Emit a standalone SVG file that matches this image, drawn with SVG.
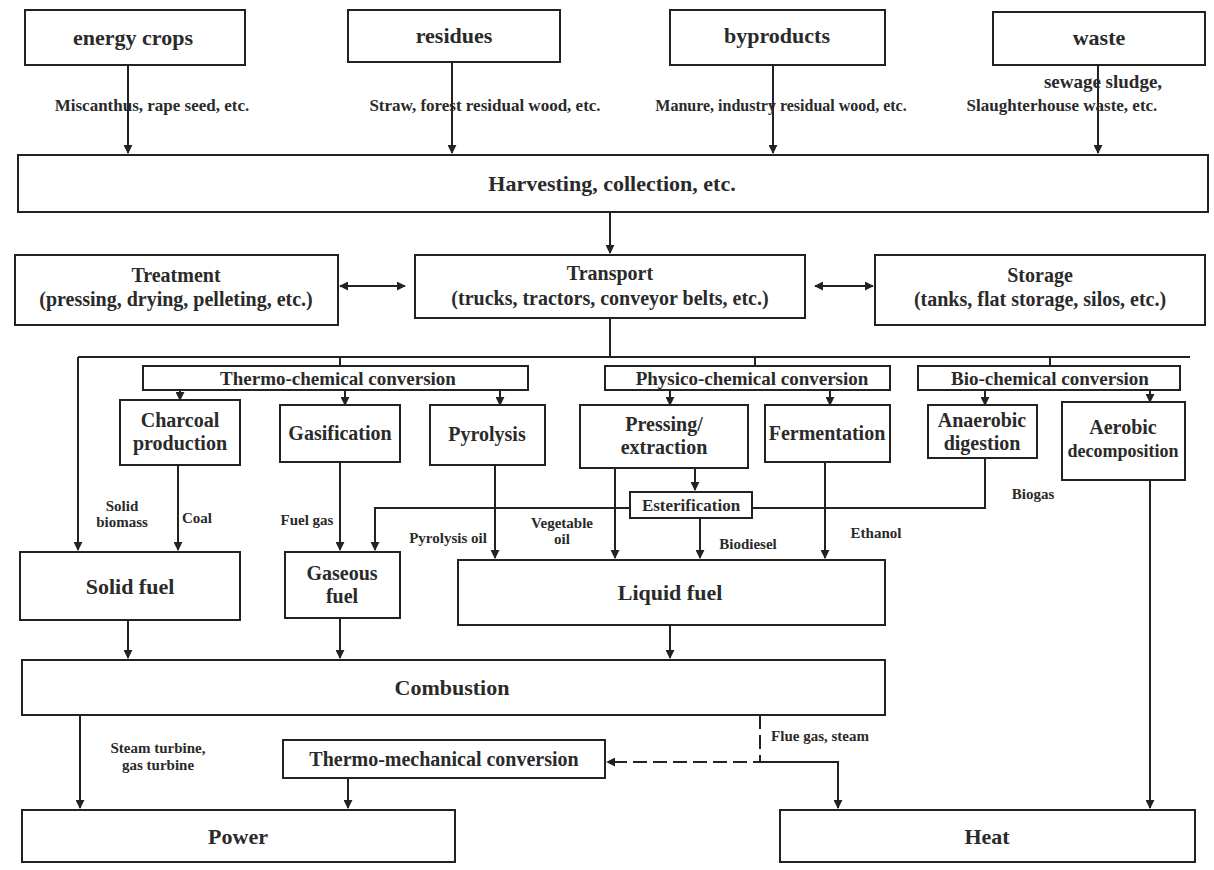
<svg xmlns="http://www.w3.org/2000/svg" width="1214" height="870" viewBox="0 0 1214 870">
<defs>
<marker id="ah" viewBox="0 0 10 10" refX="9" refY="5" markerWidth="9" markerHeight="9" orient="auto-start-reverse" markerUnits="userSpaceOnUse"><path d="M0,0 L10,5 L0,10 z" fill="#222"/></marker>
<style>
.b{fill:#fff;stroke:#222;stroke-width:2}
.c{fill:none;stroke:#222;stroke-width:2}
.a{fill:none;stroke:#222;stroke-width:2;marker-end:url(#ah)}
.t{font-family:"Liberation Serif",serif;font-weight:bold;fill:#2a2a2a;text-anchor:middle}
.h{font-size:22px}
.l{font-size:22px}
.m{font-size:20px}
.g{font-size:19px}
.p{font-size:17px}
.s{font-size:15px}
</style>
</defs>
<rect width="1214" height="870" fill="#fff"/>
<g id="connectors">
<path class="a" d="M128,65 V153"/>
<path class="a" d="M452,62 V153"/>
<path class="a" d="M773,65 V153"/>
<path class="a" d="M1098,65 V153"/>
<path class="a" d="M610,212 V253"/>
<path class="a" d="M405,286 H340" style="marker-start:url(#ah)"/>
<path class="a" d="M815,286 H873" style="marker-start:url(#ah)"/>
<path class="c" d="M610,318 V357"/>
<path class="c" d="M78,357 H1190"/>
<path class="c" d="M340,357 V366 M755,357 V366 M1050,357 V366"/>
<path class="a" d="M180,390 V400"/>
<path class="a" d="M345,390 V405"/>
<path class="a" d="M500,390 V405"/>
<path class="a" d="M670,390 V405"/>
<path class="a" d="M830,390 V405"/>
<path class="a" d="M985,390 V405"/>
<path class="a" d="M1150,390 V402"/>
<path class="a" d="M78,357 V550"/>
<path class="a" d="M178,465 V550"/>
<path class="a" d="M340,462 V550"/>
<path class="a" d="M985,458 V508 H375 V550"/>
<path class="a" d="M495,465 V558"/>
<path class="a" d="M615,468 V558"/>
<path class="a" d="M695,468 V490"/>
<path class="a" d="M700,518 V558"/>
<path class="a" d="M825,462 V558"/>
<path class="a" d="M1150,480 V808"/>
<path class="a" d="M128,620 V658"/>
<path class="a" d="M340,618 V658"/>
<path class="a" d="M670,625 V658"/>
<path class="a" d="M80,715 V808"/>
<path class="a" d="M760,715 V762 H607" style="stroke-dasharray:14 6"/>
<path class="a" d="M760,762 H838 V808"/>
<path class="a" d="M348,778 V808"/>
</g>
<g id="energy-crops"><rect class="b" x="25" y="10" width="220" height="55"/><text class="t h" x="133" y="45">energy crops</text></g>
<g id="residues"><rect class="b" x="348" y="10" width="212" height="52"/><text class="t h" x="454" y="43">residues</text></g>
<g id="byproducts"><rect class="b" x="670" y="10" width="215" height="55"/><text class="t h" x="777" y="43">byproducts</text></g>
<g id="waste"><rect class="b" x="993" y="12" width="212" height="53"/><text class="t h" x="1099" y="45">waste</text></g>
<g id="labels-sources">
<text class="t p" x="152" y="111">Miscanthus, rape seed, etc.</text>
<text class="t p" x="485" y="111">Straw, forest residual wood, etc.</text>
<text class="t p" x="781" y="111" style="font-size:16px">Manure, industry residual wood, etc.</text>
<text class="t p" x="1062" y="111">Slaughterhouse waste, etc.</text>
<text class="t p" x="1103" y="88" style="font-size:19px">sewage sludge,</text>
</g>
<g id="harvest"><rect class="b" x="18" y="155" width="1190" height="57"/><text class="t l" x="612" y="191">Harvesting, collection, etc.</text></g>
<g id="treatment"><rect class="b" x="15" y="255" width="323" height="70"/><text class="t m" x="176" y="282">Treatment</text><text class="t m" x="176" y="306">(pressing, drying, pelleting, etc.)</text></g>
<g id="transport"><rect class="b" x="415" y="255" width="390" height="63"/><text class="t m" x="610" y="280">Transport</text><text class="t m" x="610" y="305">(trucks, tractors, conveyor belts, etc.)</text></g>
<g id="storage"><rect class="b" x="875" y="255" width="330" height="70"/><text class="t m" x="1040" y="282">Storage</text><text class="t m" x="1040" y="306">(tanks, flat storage, silos, etc.)</text></g>
<g id="thermo-chemical"><rect class="b" x="143" y="366" width="385" height="24"/><text class="t g" x="338" y="385">Thermo-chemical conversion</text></g>
<g id="physico-chemical"><rect class="b" x="605" y="366" width="285" height="24"/><text class="t g" x="752" y="385">Physico-chemical conversion</text></g>
<g id="bio-chemical"><rect class="b" x="918" y="366" width="262" height="24"/><text class="t g" x="1050" y="385">Bio-chemical conversion</text></g>
<g id="charcoal-production"><rect class="b" x="120" y="400" width="120" height="65"/><text class="t m" x="180" y="427">Charcoal</text><text class="t m" x="180" y="450">production</text></g>
<g id="gasification"><rect class="b" x="280" y="405" width="120" height="57"/><text class="t m" x="340" y="440">Gasification</text></g>
<g id="pyrolysis"><rect class="b" x="430" y="405" width="115" height="60"/><text class="t m" x="487" y="441">Pyrolysis</text></g>
<g id="pressing"><rect class="b" x="580" y="405" width="168" height="63"/><text class="t m" x="664" y="431">Pressing/</text><text class="t m" x="664" y="454">extraction</text></g>
<g id="fermentation"><rect class="b" x="765" y="405" width="125" height="57"/><text class="t m" x="827" y="440">Fermentation</text></g>
<g id="anaerobic-digestion"><rect class="b" x="928" y="405" width="109" height="53"/><text class="t m" x="982" y="427">Anaerobic</text><text class="t m" x="982" y="450">digestion</text></g>
<g id="aerobic-decomposition"><rect class="b" x="1062" y="402" width="123" height="78"/><text class="t m" x="1123" y="434">Aerobic</text><text class="t m" x="1123" y="457" style="font-size:18px">decomposition</text></g>
<g id="esterification"><rect class="b" x="630" y="492" width="122" height="26"/><text class="t p" x="691" y="511">Esterification</text></g>
<g id="labels-products">
<text class="t s" x="122" y="511">Solid</text><text class="t s" x="122" y="527">biomass</text>
<text class="t s" x="197" y="523">Coal</text>
<text class="t s" x="307" y="525">Fuel gas</text>
<text class="t s" x="448" y="543">Pyrolysis oil</text>
<text class="t s" x="562" y="528">Vegetable</text><text class="t s" x="562" y="544">oil</text>
<text class="t s" x="748" y="549">Biodiesel</text>
<text class="t s" x="876" y="538">Ethanol</text>
<text class="t s" x="1033" y="499">Biogas</text>
</g>
<g id="solid-fuel"><rect class="b" x="20" y="552" width="220" height="68"/><text class="t l" x="130" y="594">Solid fuel</text></g>
<g id="gaseous-fuel"><rect class="b" x="285" y="552" width="115" height="66"/><text class="t m" x="342" y="580">Gaseous</text><text class="t m" x="342" y="603">fuel</text></g>
<g id="liquid-fuel"><rect class="b" x="458" y="560" width="427" height="65"/><text class="t l" x="670" y="600">Liquid fuel</text></g>
<g id="combustion"><rect class="b" x="22" y="660" width="863" height="55"/><text class="t l" x="452" y="695">Combustion</text></g>
<g id="labels-energy">
<text class="t s" x="158" y="753">Steam turbine,</text><text class="t s" x="158" y="770">gas turbine</text>
<text class="t s" x="820" y="741">Flue gas, steam</text>
</g>
<g id="thermo-mechanical"><rect class="b" x="283" y="740" width="322" height="38"/><text class="t m" x="444" y="766">Thermo-mechanical conversion</text></g>
<g id="power"><rect class="b" x="22" y="810" width="433" height="52"/><text class="t l" x="238" y="844">Power</text></g>
<g id="heat"><rect class="b" x="780" y="810" width="415" height="52"/><text class="t l" x="987" y="844">Heat</text></g>
</svg>
